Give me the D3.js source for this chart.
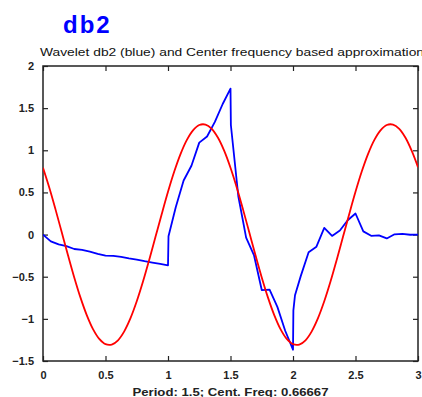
<!DOCTYPE html>
<html>
<head>
<meta charset="utf-8">
<script src="https://cdn.jsdelivr.net/npm/d3@7"></script>
<style>
  html, body { margin: 0; padding: 0; background: #fff; }
  #chart { width: 422px; height: 397px; }
</style>
</head>
<body>
<div id="chart"></div>
<script>
// Wavelet db2 (blue)
const psiX = [0, 0.0625, 0.125, 0.1875, 0.25, 0.3125, 0.375, 0.4375, 0.5, 0.5625, 0.625, 0.6875, 0.75, 0.8125, 0.875, 0.9375,
    1, 1.004, 1.0625, 1.125, 1.1875, 1.25, 1.3125, 1.375, 1.4375, 1.5, 1.503, 1.5625, 1.625, 1.6875, 1.75, 1.8125, 1.875, 1.9375,
    2, 2.003, 2.016, 2.0625, 2.125, 2.1875, 2.25, 2.3125, 2.375, 2.4375, 2.5, 2.5625, 2.625, 2.6875, 2.75, 2.8125, 2.875, 2.9375, 3];
const psiY = [0, -0.080, -0.117, -0.138, -0.171, -0.181, -0.202, -0.228, -0.250, -0.252, -0.265, -0.282, -0.296, -0.316, -0.333, -0.349,
    -0.366, -0.02, 0.328, 0.641, 0.816, 1.091, 1.163, 1.337, 1.549, 1.732, 1.30, 0.455, -0.037, -0.243, -0.658, -0.653, -0.858, -1.141,
    -1.366, -0.90, -0.72, -0.490, -0.209, -0.144, 0.079, -0.016, 0.048, 0.170, 0.250, 0.038, -0.015, -0.009, -0.046, 0.003, 0.008, -0.002, 0];

// Center frequency based approximation (red)
const approxX = [0, 0.05, 0.1, 0.15, 0.2, 0.25, 0.3, 0.35, 0.4, 0.45, 0.5, 0.55, 0.6, 0.65, 0.7, 0.75, 0.8, 0.85, 0.9, 0.95,
    1, 1.05, 1.1, 1.15, 1.2, 1.25, 1.3, 1.35, 1.4, 1.45, 1.5, 1.55, 1.6, 1.65, 1.7, 1.75, 1.8, 1.85, 1.9, 1.95,
    2, 2.05, 2.1, 2.15, 2.2, 2.25, 2.3, 2.35, 2.4, 2.45, 2.5, 2.55, 2.6, 2.65, 2.7, 2.75, 2.8, 2.85, 2.9, 2.95, 3];
const approxY = [0.792, 0.558, 0.299, 0.027, -0.245, -0.508, -0.748, -0.955, -1.121, -1.237, -1.300, -1.305, -1.254, -1.148, -0.992,
    -0.792, -0.558, -0.299, -0.027, 0.245, 0.508, 0.748, 0.955, 1.121, 1.237, 1.300, 1.305, 1.254, 1.148, 0.992,
    0.792, 0.558, 0.299, 0.027, -0.245, -0.508, -0.748, -0.955, -1.121, -1.237, -1.300, -1.305, -1.254, -1.148, -0.992,
    -0.792, -0.558, -0.299, -0.027, 0.245, 0.508, 0.748, 0.955, 1.121, 1.237, 1.300, 1.305, 1.254, 1.148, 0.992, 0.80];

const xTicks = [0, 0.5, 1, 1.5, 2, 2.5, 3];
const yTicks = [-1.5, -1, -0.5, 0, 0.5, 1, 1.5, 2];

const width = 422, height = 397;
const margin = { top: 66, right: 4, bottom: 36, left: 43 };
const plotW = width - margin.left - margin.right;
const plotH = height - margin.top - margin.bottom;

const svg = d3.select("#chart")
    .append("svg")
    .attr("width", width)
    .attr("height", height)
    .style("display", "block");

const x = d3.scaleLinear().domain([0, 3]).range([0, plotW]);
const y = d3.scaleLinear().domain([-1.5, 2]).range([plotH, 0]);

const g = svg.append("g")
    .attr("transform", `translate(${margin.left},${margin.top})`);

// clip so nothing leaks past the box
svg.append("defs").append("clipPath")
    .attr("id", "plot-clip")
    .append("rect")
    .attr("width", plotW)
    .attr("height", plotH);

// Big blue name
svg.append("text")
    .attr("x", 63)
    .attr("y", 33)
    .attr("fill", "#0000ff")
    .style("font-family", "'Liberation Sans', Arial, sans-serif")
    .style("font-weight", "bold")
    .style("font-size", "24px")
    .style("letter-spacing", "2px")
    .text("db2");

// Subtitle
svg.append("text")
    .attr("x", 40)
    .attr("y", 56)
    .attr("fill", "#111")
    .attr("textLength", 384)
    .attr("lengthAdjust", "spacingAndGlyphs")
    .style("font-family", "'Liberation Sans', Arial, sans-serif")
    .style("font-size", "11px")
    .text("Wavelet db2 (blue) and Center frequency based approximation");

// Axes with inward ticks on all four sides
const axisStyle = sel => {
    sel.select(".domain").remove();
    sel.selectAll("line").attr("stroke", "#222").attr("stroke-width", 1.2);
    sel.selectAll("text")
        .attr("fill", "#222")
        .style("font-family", "'Liberation Sans', Arial, sans-serif")
        .style("font-weight", "bold")
        .style("font-size", "11px");
};

g.append("g")
    .attr("transform", `translate(0,${plotH})`)
    .call(d3.axisBottom(x).tickValues(xTicks).tickFormat(d3.format("")).tickSize(-5).tickPadding(10))
    .call(axisStyle);

g.append("g")
    .call(d3.axisTop(x).tickValues(xTicks).tickSize(-5).tickFormat(""))
    .call(axisStyle);

g.append("g")
    .call(d3.axisLeft(y).tickValues(yTicks).tickFormat(d => d < 0 ? "\u2212" + Math.abs(d) : d).tickSize(-5).tickPadding(9))
    .call(axisStyle);

g.append("g")
    .attr("transform", `translate(${plotW},0)`)
    .call(d3.axisRight(y).tickValues(yTicks).tickSize(-5).tickFormat(""))
    .call(axisStyle);

// Box
g.append("rect")
    .attr("width", plotW)
    .attr("height", plotH)
    .attr("fill", "none")
    .attr("stroke", "#222")
    .attr("stroke-width", 1.5);

const lines = g.append("g").attr("clip-path", "url(#plot-clip)");

const psiLine = d3.line()
    .x((d, i) => x(psiX[i]))
    .y(d => y(d));

lines.append("path")
    .datum(psiY)
    .attr("fill", "none")
    .attr("stroke", "#0000ff")
    .attr("stroke-width", 1.8)
    .attr("stroke-linejoin", "round")
    .attr("d", psiLine);

const approxLine = d3.line()
    .x((d, i) => x(approxX[i]))
    .y(d => y(d))
    .curve(d3.curveCatmullRom);

lines.append("path")
    .datum(approxY)
    .attr("fill", "none")
    .attr("stroke", "#ff0000")
    .attr("stroke-width", 1.8)
    .attr("d", approxLine);

// x label
svg.append("text")
    .attr("x", margin.left + plotW / 2)
    .attr("y", 396)
    .attr("text-anchor", "middle")
    .attr("fill", "#222")
    .attr("textLength", 196)
    .attr("lengthAdjust", "spacingAndGlyphs")
    .style("font-family", "'Liberation Sans', Arial, sans-serif")
    .style("font-weight", "bold")
    .style("font-size", "11px")
    .text("Period: 1.5; Cent. Freq: 0.66667");
</script>
</body>
</html>
